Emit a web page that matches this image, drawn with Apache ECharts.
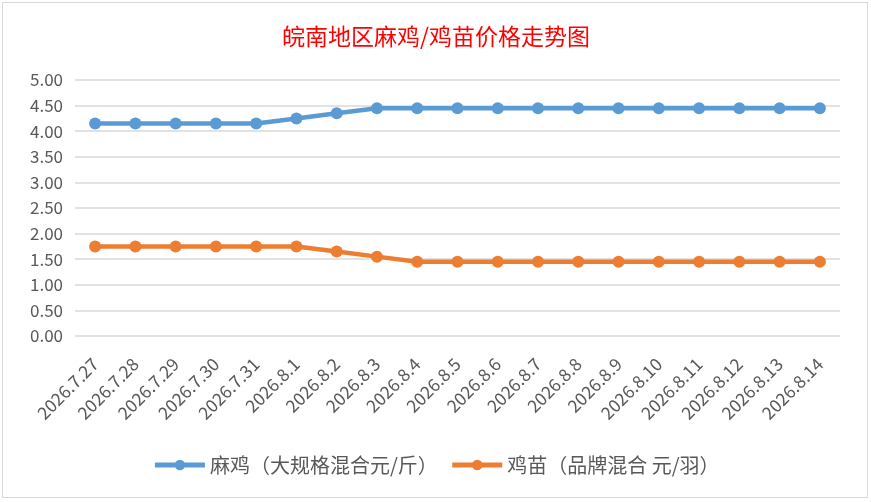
<!DOCTYPE html>
<html>
<head>
<meta charset="utf-8">
<script src="https://cdn.jsdelivr.net/npm/echarts@6/dist/echarts.min.js"></script>
<style>
  html, body { margin: 0; padding: 0; background: #fff; }
  #frame { position: absolute; left: 2px; top: 2px; width: 864px; height: 494px; border: 1px solid #d9d9d9; }
  #chart { width: 866px; height: 496px; }
</style>
</head>
<body>
<div id="frame"><div id="chart"></div></div>
<script>
const categories = ["2026.7.27", "2026.7.28", "2026.7.29", "2026.7.30", "2026.7.31", "2026.8.1",
  "2026.8.2", "2026.8.3", "2026.8.4", "2026.8.5", "2026.8.6", "2026.8.7", "2026.8.8",
  "2026.8.9", "2026.8.10", "2026.8.11", "2026.8.12", "2026.8.13", "2026.8.14"];
const maJi = [4.15, 4.15, 4.15, 4.15, 4.15, 4.25, 4.35, 4.45, 4.45, 4.45, 4.45, 4.45, 4.45, 4.45, 4.45, 4.45, 4.45, 4.45, 4.45];
const jiMiao = [1.75, 1.75, 1.75, 1.75, 1.75, 1.75, 1.65, 1.55, 1.45, 1.45, 1.45, 1.45, 1.45, 1.45, 1.45, 1.45, 1.45, 1.45, 1.45];
const seriesNames = ["麻鸡（大规格混合元/斤）", "鸡苗（品牌混合 元/羽）"];
const colors = ["#5b9bd5", "#ed7d31"];

const chart = echarts.init(document.getElementById("chart"));
const font = "'Noto Sans CJK SC', 'Microsoft YaHei', sans-serif";

chart.setOption({
  animation: false,
  title: {
    text: "皖南地区麻鸡/鸡苗价格走势图",
    left: "center",
    top: 17,
    textStyle: { color: "#ff0000", fontSize: 23, fontWeight: "normal", fontFamily: font }
  },
  legend: {
    bottom: 19,
    left: "center",
    itemWidth: 50,
    itemHeight: 13,
    itemGap: 12,
    lineStyle: { width: 5 },
    textStyle: { color: "#595959", fontSize: 20, fontFamily: font },
    data: seriesNames
  },
  grid: { left: 72, right: 29, top: 77, bottom: 163 },
  xAxis: {
    type: "category",
    data: categories,
    boundaryGap: true,
    axisLine: { show: false },
    axisTick: { show: false },
    axisLabel: { rotate: 45, color: "#595959", fontSize: 17.5, fontFamily: font, margin: 25, interval: 0 }
  },
  yAxis: {
    type: "value",
    min: 0,
    max: 5,
    interval: 0.5,
    axisLine: { show: false },
    axisTick: { show: false },
    splitLine: { lineStyle: { color: "#d9d9d9", width: 1.5 } },
    axisLabel: {
      color: "#595959", fontSize: 17, fontFamily: font, margin: 12,
      formatter: v => v.toFixed(2)
    }
  },
  series: [
    {
      name: seriesNames[0],
      type: "line",
      data: maJi,
      symbol: "circle",
      symbolSize: 12,
      lineStyle: { color: colors[0], width: 4.5 },
      itemStyle: { color: colors[0] }
    },
    {
      name: seriesNames[1],
      type: "line",
      data: jiMiao,
      symbol: "circle",
      symbolSize: 12,
      lineStyle: { color: colors[1], width: 4.5 },
      itemStyle: { color: colors[1] }
    }
  ]
});
</script>
</body>
</html>
